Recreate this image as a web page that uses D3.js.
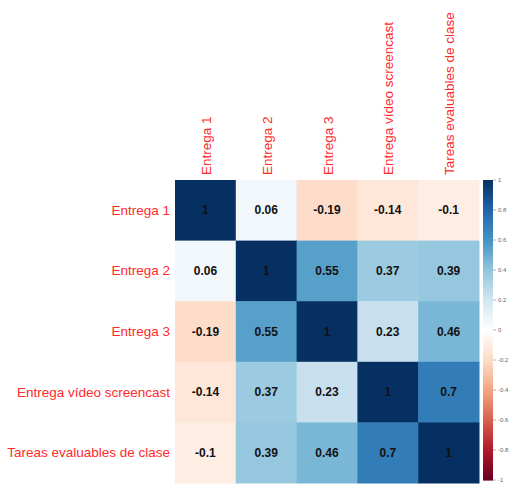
<!DOCTYPE html>
<html>
<head>
<meta charset="utf-8">
<script src="https://cdn.jsdelivr.net/npm/d3@7"></script>
<style>
  html, body { margin: 0; padding: 0; background: #fff; }
  svg { display: block; }
</style>
</head>
<body>
<svg id="chart" width="509" height="484"></svg>
<script>
// Variables in the correlation matrix
const variables = ["Entrega 1", "Entrega 2", "Entrega 3", "Entrega vídeo screencast", "Tareas evaluables de clase"];

// Pearson correlation coefficients, one row per variable
const rowEntrega1 = [1, 0.06, -0.19, -0.14, -0.1];
const rowEntrega2 = [0.06, 1, 0.55, 0.37, 0.39];
const rowEntrega3 = [-0.19, 0.55, 1, 0.23, 0.46];
const rowVideo    = [-0.14, 0.37, 0.23, 1, 0.7];
const rowTareas   = [-0.1, 0.39, 0.46, 0.7, 1];
const corrRows = [rowEntrega1, rowEntrega2, rowEntrega3, rowVideo, rowTareas];

// Colour legend tick labels
const legendTicks = [1, 0.8, 0.6, 0.4, 0.2, 0, -0.2, -0.4, -0.6, -0.8, -1];

// Diverging red-blue palette
const paletteStops = ["#67001F", "#B2182B", "#D6604D", "#F4A582", "#FDDBC7", "#FFFFFF",
                      "#D1E5F0", "#92C5DE", "#4393C3", "#2166AC", "#053061"];

const svg = d3.select("#chart");

const color = d3.scaleLinear()
  .domain(d3.range(paletteStops.length).map(i => -1 + 2 * i / (paletteStops.length - 1)))
  .range(paletteStops)
  .interpolate(d3.interpolateRgb);

const x = d3.scaleBand().domain(variables).range([175, 479]).padding(0);
const y = d3.scaleBand().domain(variables).range([180, 483]).padding(0);

const cells = [];
corrRows.forEach((row, i) => row.forEach((v, j) => cells.push({ r: variables[i], c: variables[j], v })));

const cellG = svg.append("g");
cellG.selectAll("rect")
  .data(cells)
  .join("rect")
  .attr("x", d => x(d.c))
  .attr("y", d => y(d.r))
  .attr("width", x.bandwidth() + 0.5)
  .attr("height", y.bandwidth() + 0.5)
  .attr("fill", d => color(d.v));

cellG.selectAll("text")
  .data(cells)
  .join("text")
  .attr("x", d => x(d.c) + x.bandwidth() / 2)
  .attr("y", d => y(d.r) + y.bandwidth() / 2)
  .attr("text-anchor", "middle")
  .attr("dominant-baseline", "central")
  .attr("font-family", "Liberation Sans, Arial, sans-serif")
  .attr("font-weight", "bold")
  .attr("font-size", 12)
  .attr("fill", "#111")
  .text(d => String(d.v));

// Row labels
svg.append("g").selectAll("text")
  .data(variables)
  .join("text")
  .attr("x", 170)
  .attr("y", d => y(d) + y.bandwidth() / 2)
  .attr("text-anchor", "end")
  .attr("dominant-baseline", "central")
  .attr("font-family", "Liberation Sans, Arial, sans-serif")
  .attr("font-size", 13.5)
  .attr("fill", "#ff2a2a")
  .text(d => d);

// Column labels, rotated
svg.append("g").selectAll("text")
  .data(variables)
  .join("text")
  .attr("transform", d => `translate(${x(d) + x.bandwidth() / 2 + 1},175) rotate(-90)`)
  .attr("text-anchor", "start")
  .attr("dominant-baseline", "central")
  .attr("font-family", "Liberation Sans, Arial, sans-serif")
  .attr("font-size", 13.5)
  .attr("fill", "#ff2a2a")
  .text(d => d);

// Colour legend
const ly = d3.scaleLinear().domain([1, -1]).range([180, 480]);
const legendX = 483, legendW = 10;
const steps = d3.range(200).map(i => 1 - 2 * i / 200);
const legend = svg.append("g");
legend.selectAll("rect")
  .data(steps)
  .join("rect")
  .attr("x", legendX)
  .attr("y", d => ly(d))
  .attr("width", legendW)
  .attr("height", (ly(-1) - ly(1)) / 200 + 0.6)
  .attr("fill", d => color(d - 1 / 200));

legend.selectAll("line")
  .data(legendTicks)
  .join("line")
  .attr("x1", legendX + legendW)
  .attr("x2", legendX + legendW + 3)
  .attr("y1", d => ly(d))
  .attr("y2", d => ly(d))
  .attr("stroke", "#888")
  .attr("stroke-width", 0.6);

legend.selectAll("text")
  .data(legendTicks)
  .join("text")
  .attr("x", legendX + legendW + 5)
  .attr("y", d => ly(d))
  .attr("dominant-baseline", "central")
  .attr("font-family", "Liberation Sans, Arial, sans-serif")
  .attr("font-size", 6)
  .attr("fill", "#666")
  .text(d => String(d));
</script>
</body>
</html>
